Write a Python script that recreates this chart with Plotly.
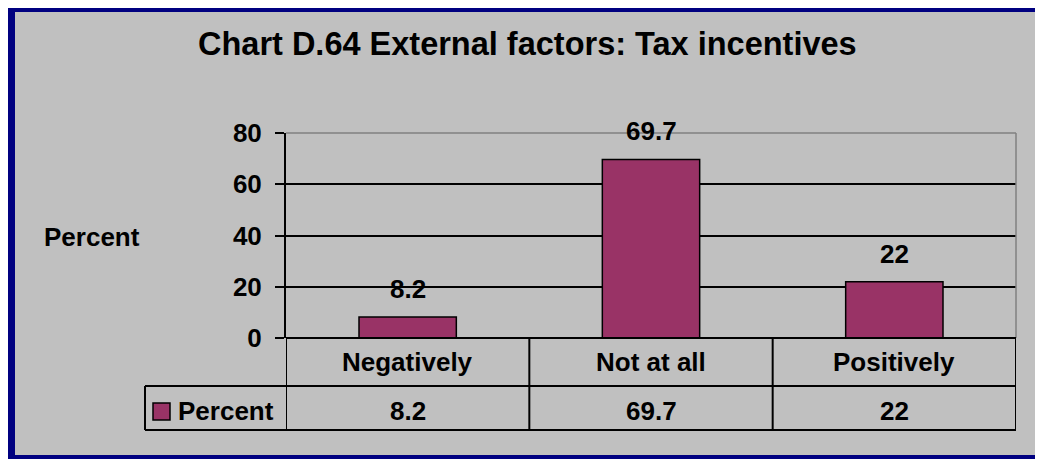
import plotly.graph_objects as go

categories = ["Negatively", "Not at all", "Positively"]
values = [8.2, 69.7, 22]
value_labels = ["8.2", "69.7", "22"]
series_name = "Percent"
y_tick_vals = [0, 20, 40, 60, 80]
y_tick_text = ["0", "20", "40", "60", "80"]
title_text = "Chart D.64 External factors: Tax incentives"
y_title = "Percent"

# page has an 8px body margin; figure sized to fill the rest of the window
OFF = 8
W, H = 1043 - OFF, 459 - OFF
FONT = "Liberation Sans, Arial, sans-serif"
NAVY = "#000080"
GRAY = "#C0C0C0"
PLOT_BG = "#99CCFF"
BAR = "#993366"


def px(x):
    return (x - OFF) / W


def py(y):
    return 1 - (y - OFF) / H


# plot area in page pixels
PL, PR, PT, PB = 286, 1016, 133, 338
ROW1_B = 386  # bottom of category row
ROW2_B = 430  # bottom of value row
LEG_L = 145

fig = go.Figure()
fig.add_trace(go.Bar(
    x=list(range(len(categories))), y=values, width=0.4,
    marker=dict(color=BAR, line=dict(color="black", width=1.5)),
    name=series_name, showlegend=False, hoverinfo="skip",
))

shapes = []
# outer navy border and gray chart area
shapes.append(dict(type="rect", xref="paper", yref="paper", x0=0, x1=1, y0=0, y1=1,
                   fillcolor=NAVY, line=dict(width=0), layer="below"))
shapes.append(dict(type="rect", xref="paper", yref="paper", x0=px(15), x1=px(1038), y0=py(455), y1=py(12),
                   fillcolor=GRAY, line=dict(width=0), layer="below"))
# gray top and right border of plot area
shapes.append(dict(type="line", xref="paper", yref="paper", x0=px(PL), x1=px(PR), y0=py(PT), y1=py(PT),
                   line=dict(color="#808080", width=1.5), layer="above"))
shapes.append(dict(type="line", xref="paper", yref="paper", x0=px(PR), x1=px(PR), y0=py(PT), y1=py(PB),
                   line=dict(color="#808080", width=1.5), layer="above"))
# table horizontal lines
LW = 2
shapes.append(dict(type="line", xref="paper", yref="paper", x0=px(PL), x1=px(PR), y0=py(PB), y1=py(PB),
                   line=dict(color="black", width=LW), layer="above"))
for yy in (ROW1_B, ROW2_B):
    shapes.append(dict(type="line", xref="paper", yref="paper", x0=px(LEG_L), x1=px(PR), y0=py(yy), y1=py(yy),
                       line=dict(color="black", width=LW), layer="above"))
# table vertical lines at category boundaries
for i in range(len(categories) + 1):
    shapes.append(dict(type="line", xref="x", yref="paper", x0=i - 0.5, x1=i - 0.5, y0=py(ROW2_B), y1=py(PB),
                       line=dict(color="black", width=LW), layer="above"))
shapes.append(dict(type="line", xref="paper", yref="paper", x0=px(LEG_L), x1=px(LEG_L), y0=py(ROW2_B), y1=py(ROW1_B),
                   line=dict(color="black", width=LW), layer="above"))
# legend key
shapes.append(dict(type="rect", xref="paper", yref="paper", x0=px(153), x1=px(170), y0=py(420), y1=py(403),
                   fillcolor=BAR, line=dict(color="black", width=1.5), layer="above"))

annotations = []
f26 = dict(family=FONT, size=26, color="black")
annotations.append(dict(text="<b>%s</b>" % title_text, xref="paper", yref="paper", x=px(527), y=py(44),
                        showarrow=False, xanchor="center", yanchor="middle",
                        font=dict(family=FONT, size=32.5, color="black")))
annotations.append(dict(text="<b>%s</b>" % y_title, xref="paper", yref="paper", x=px(42), y=py(237),
                        showarrow=False, xanchor="left", yanchor="middle", font=f26))
for i, (c, v, lab) in enumerate(zip(categories, values, value_labels)):
    annotations.append(dict(text="<b>%s</b>" % lab, xref="x", yref="y", x=i, y=v, yshift=28,
                            showarrow=False, xanchor="center", yanchor="middle", font=f26))
    annotations.append(dict(text="<b>%s</b>" % c, xref="x", yref="paper", x=i, y=py(362),
                            showarrow=False, xanchor="center", yanchor="middle", font=f26))
    annotations.append(dict(text="<b>%s</b>" % lab, xref="x", yref="paper", x=i, y=py(411),
                            showarrow=False, xanchor="center", yanchor="middle", font=f26))
annotations.append(dict(text="<b>%s</b>" % series_name, xref="paper", yref="paper", x=px(176), y=py(411),
                        showarrow=False, xanchor="left", yanchor="middle", font=f26))

fig.update_layout(
    width=W, height=H,
    margin=dict(l=0, r=0, t=0, b=0, pad=0, autoexpand=False),
    paper_bgcolor="white",
    plot_bgcolor=PLOT_BG,
    shapes=shapes,
    annotations=annotations,
    bargap=0.6,
    xaxis=dict(domain=[px(PL), px(PR)], range=[-0.5, len(categories) - 0.5], automargin=False,
               showticklabels=False, showgrid=False, zeroline=False, showline=False, ticks=""),
    yaxis=dict(domain=[py(PB), py(PT)], range=[0, 80], tickvals=y_tick_vals, ticktext=y_tick_text,
               automargin=False,
               showgrid=True, gridcolor="black", gridwidth=1.5, zeroline=False,
               showline=True, linecolor="black", linewidth=2,
               ticks="outside", ticklen=9, tickwidth=2, tickcolor="black",
               ticklabelstandoff=8,
               tickfont=dict(family=FONT, size=26, color="black", weight="bold")),
)

fig.write_html("out.html", config=dict(displayModeBar=False))
